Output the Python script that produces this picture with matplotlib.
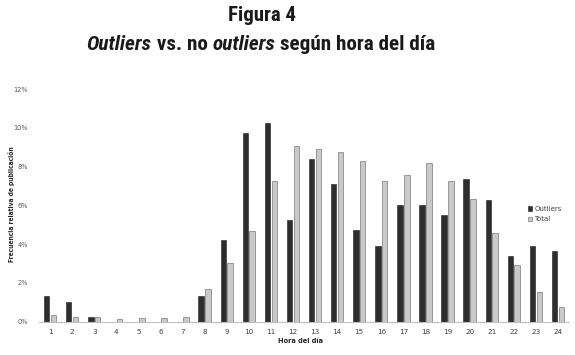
import matplotlib
matplotlib.use("Agg")
import matplotlib.pyplot as plt
from matplotlib import font_manager
from matplotlib.ticker import FuncFormatter

hours = [str(h) for h in range(1, 25)]
outliers = [1.33, 1.04, 0.23, 0.0, 0.0, 0.0, 0.0, 1.33, 4.23, 9.75, 10.26, 5.24,
            8.39, 7.09, 4.71, 3.90, 6.03, 6.04, 5.51, 7.35, 6.30, 3.39, 3.90, 3.67]
total = [0.35, 0.25, 0.23, 0.14, 0.21, 0.21, 0.23, 1.67, 3.01, 4.66, 7.23, 9.05,
         8.93, 8.76, 8.29, 7.25, 7.55, 8.16, 7.25, 6.33, 4.58, 2.94, 1.55, 0.77]
yticks = [0, 2, 4, 6, 8, 10, 12]
series_labels = ["Outliers", "Total"]
title1 = "Figura 4"
title2_parts = [("Outliers", True), (" vs. no ", False), ("outliers", True),
                (" según hora del día", False)]

names = {f.name for f in font_manager.fontManager.ttflist}
cond = None
for cand in ["Roboto Condensed", "Liberation Sans Narrow", "Open Sans Condensed", "DejaVu Sans"]:
    if cand in names:
        cond = cand
        break

W, H = 575, 355
fig = plt.figure(figsize=(W / 100, H / 100), dpi=100)
ax = fig.add_axes([39 / W, 1 - 321.7 / H, (569 - 39) / W, (321.7 - 89) / H])

x = list(range(1, 25))
off, bw = 0.155, 0.25
ax.bar([v - off for v in x], outliers, width=bw, color="#2e2e2e", edgecolor="#1e1e1e",
       linewidth=0.4, label=series_labels[0])
ax.bar([v + off for v in x], total, width=bw, color="#c9c9c9", edgecolor="#7a7a7a",
       linewidth=0.5, label=series_labels[1])

ax.set_xlim(0.5, 24.5)
ax.set_ylim(0, 12)
ax.set_yticks(yticks)
ax.yaxis.set_major_formatter(FuncFormatter(lambda v, p: f"{int(v)}%"))
ax.set_xticks(x)
ax.set_xticklabels(hours)
for s in ["top", "right", "left"]:
    ax.spines[s].set_visible(False)
ax.spines["bottom"].set_color("#bfbfbf")
ax.spines["bottom"].set_linewidth(0.8)
ax.tick_params(axis="y", length=0, pad=8, labelsize=4.8, labelcolor="#595959")
ax.tick_params(axis="x", length=0, pad=5, labelsize=5.2, labelcolor="#404040")

fig.text(12 / W, 1 - 204 / H, "Frecuencia relativa de publicación", rotation=90,
         ha="center", va="center", fontsize=4.8, fontweight="bold", color="#262626",
         fontstretch="condensed")
fig.text(301 / W, 1 - 341 / H, "Hora del día", ha="center", va="center",
         fontsize=4.8, fontweight="bold", color="#262626")

leg = fig.legend(loc="upper left", bbox_to_anchor=(528 / W, 1 - 206 / H), frameon=False,
                 fontsize=5, handlelength=0.6, handleheight=0.6, handletextpad=0.3,
                 labelspacing=0.6, borderpad=0, borderaxespad=0)
for t in leg.get_texts():
    t.set_color("#404040")

# Title
tkw = dict(fontfamily=cond, fontweight="bold", fontstretch="condensed", color="#1a1a1a")
fig.text(262 / W, 1 - 21 / H, title1, ha="center", va="baseline", fontsize=15, **tkw)

renderer = fig.canvas.get_renderer()
texts = []
for s, it in title2_parts:
    t = fig.text(0, 1 - 50 / H, s, ha="left", va="baseline", fontsize=15.2,
                 fontstyle="italic" if it else "normal", **tkw)
    texts.append(t)
widths = [t.get_window_extent(renderer).width for t in texts]
tot = sum(widths)
xcur = 261 - tot / 2
for t, w in zip(texts, widths):
    t.set_x(xcur / W)
    xcur += w

fig.savefig("out.png", dpi=100)
